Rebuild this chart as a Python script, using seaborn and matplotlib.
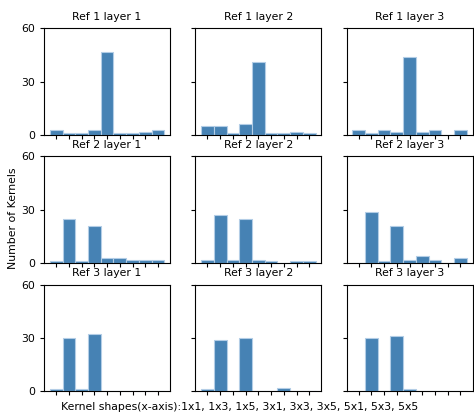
import matplotlib
matplotlib.use("Agg")
import matplotlib.pyplot as plt
import seaborn as sns

# kernel shape categories (x axis of every panel)
shapes = ["1x1", "1x3", "1x5", "3x1", "3x3", "3x5", "5x1", "5x3", "5x5"]

# number of kernels per shape
ref1_layer1 = [3, 1, 1, 3, 47, 1, 1, 2, 3]
ref1_layer2 = [5, 5, 1, 6, 41, 1, 1, 2, 1]
ref1_layer3 = [3, 1, 3, 2, 44, 2, 3, 0, 3]
ref2_layer1 = [1, 25, 1, 21, 3, 3, 2, 2, 2]
ref2_layer2 = [2, 27, 2, 25, 2, 1, 0, 1, 1]
ref2_layer3 = [0, 29, 1, 21, 2, 4, 2, 0, 3]
ref3_layer1 = [1, 30, 1, 32, 0, 0, 0, 0, 0]
ref3_layer2 = [1, 29, 0, 30, 0, 0, 2, 0, 0]
ref3_layer3 = [0, 30, 0, 31, 1, 0, 0, 0, 0]

counts = [
    [ref1_layer1, ref1_layer2, ref1_layer3],
    [ref2_layer1, ref2_layer2, ref2_layer3],
    [ref3_layer1, ref3_layer2, ref3_layer3],
]

fs = 7.8
plt.rcParams['font.family'] = ['DejaVu Sans']
plt.rcParams['font.size'] = fs
plt.rcParams['xtick.major.size'] = 2.8
plt.rcParams['ytick.major.size'] = 2.8

fig, axes = plt.subplots(3, 3, sharey=True, figsize=(4.74, 4.18), dpi=100)

for r in range(3):
    for c in range(3):
        ax = axes[r][c]
        sns.barplot(x=shapes, y=counts[r][c], order=shapes, color="steelblue",
                    saturation=1, width=1, edgecolor="#b3cde6", linewidth=0.8, ax=ax)
        ax.set_autoscalex_on(True)
        ax.margins(x=0.05)
        ax.autoscale_view()
        ax.set_title(f"Ref {r + 1} layer {c + 1}", fontsize=fs)
        ax.set(xlabel="", ylabel="")
        ax.tick_params(labelbottom=False, labelsize=fs)

axes[0][0].set_ylim(0, 60)
axes[0][0].set_yticks([0, 30, 60])

fig.subplots_adjust(left=0.093, right=0.997, top=0.932, bottom=0.064,
                    wspace=0.2, hspace=0.2)
fig.text(0.027, 0.478, "Number of Kernels", rotation=90,
         ha="center", va="center", fontsize=fs)
fig.text(0.506, 0.027,
         "Kernel shapes(x-axis):1x1, 1x3, 1x5, 3x1, 3x3, 3x5, 5x1, 5x3, 5x5",
         ha="center", va="center", fontsize=fs)

plt.savefig("out.png", dpi=100)
